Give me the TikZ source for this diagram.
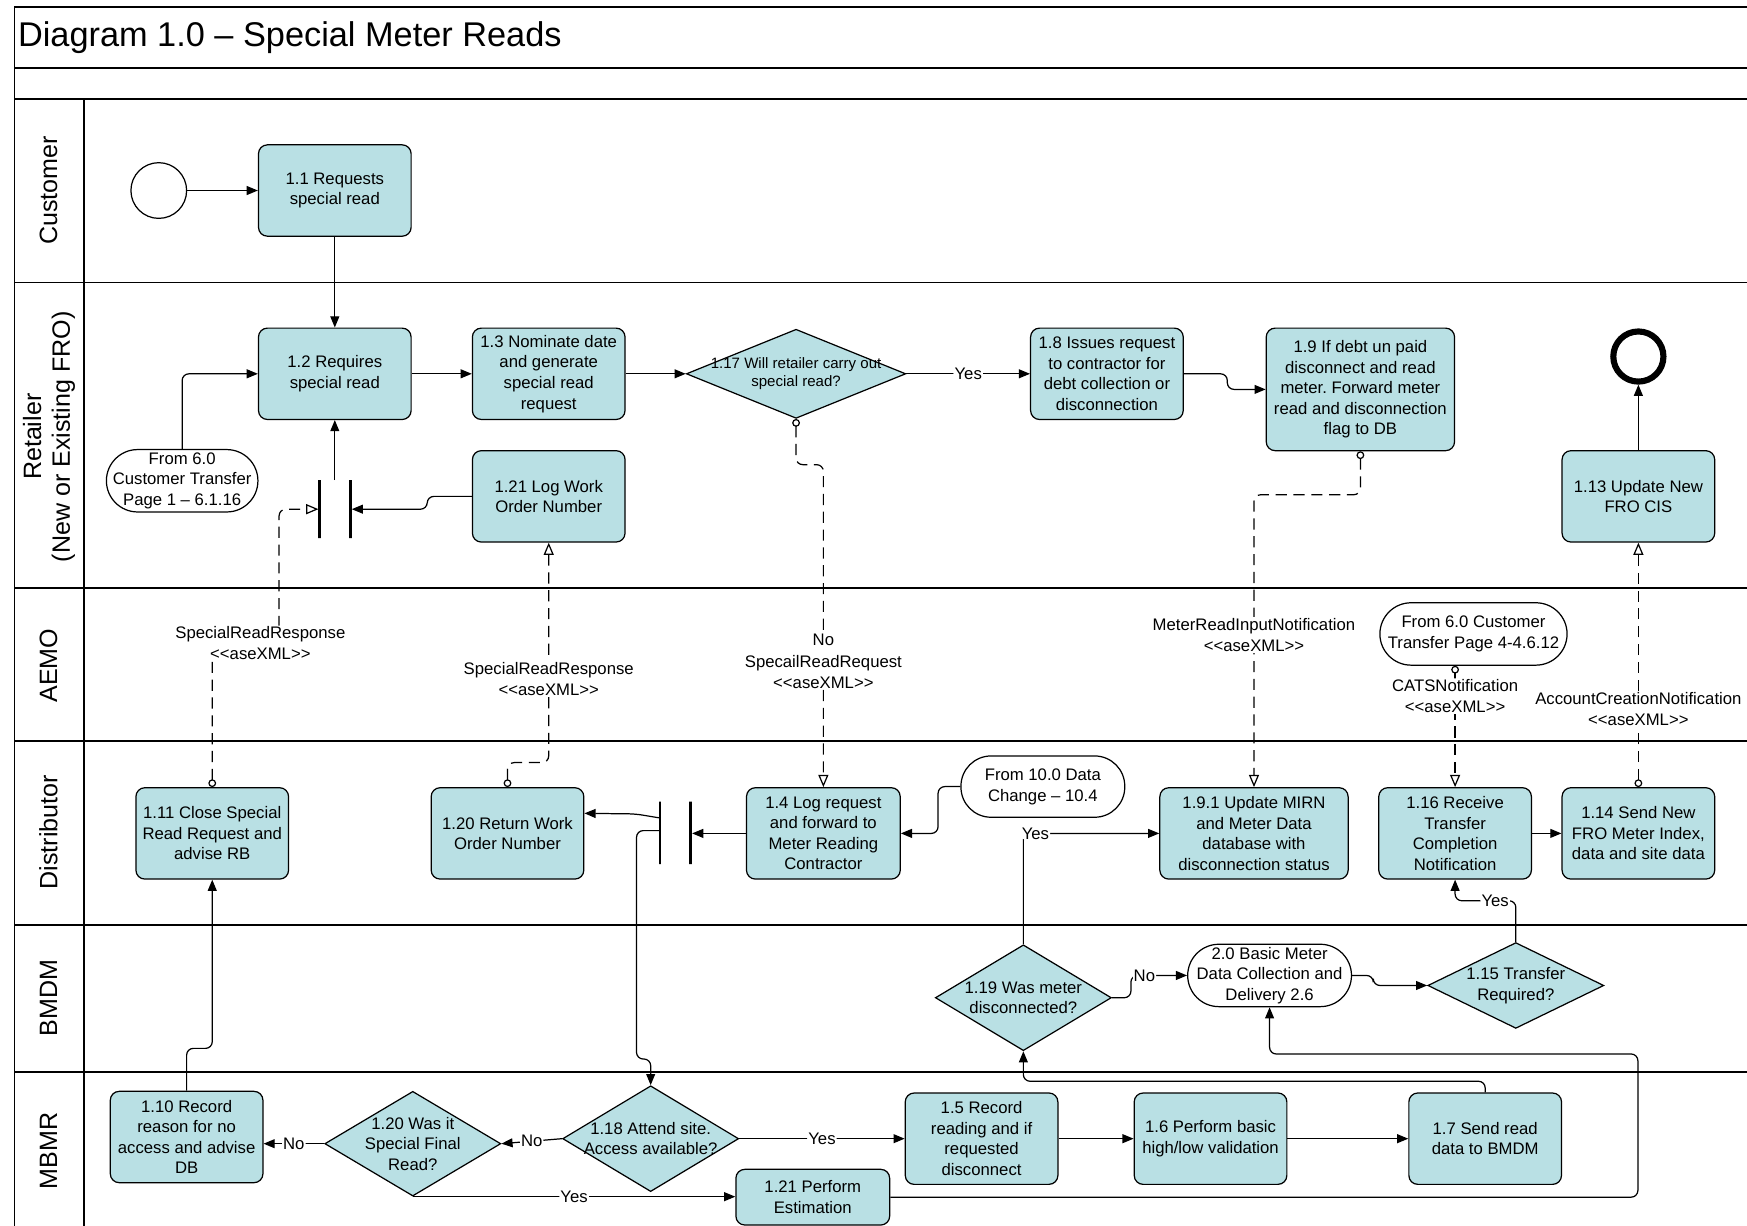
\documentclass[tikz,border=0pt]{standalone}
\usepackage{fontspec}
\setmainfont{Liberation Sans}
\usetikzlibrary{arrows.meta,shapes.geometric}
\definecolor{taskfill}{RGB}{185,224,228}
\newcommand{\tskfont}{\fontsize{15}{18.5}\selectfont}
\newcommand{\msgfont}{\fontsize{15}{19}\selectfont}
\newcommand{\gatefont}{\fontsize{13.5}{16.5}\selectfont}
\newcommand{\lanefont}{\fontsize{22.5}{26}\selectfont}
\newcommand{\ttlfont}{\fontsize{30.8}{36}\selectfont}
\newcommand{\axml}{<\kern0pt<aseXML>\kern0pt>}
\frenchspacing
\begin{document}
\begin{tikzpicture}[x=1pt, y=-1pt,
        frame/.style={line width=1.5pt},
        task/.style={draw, line width=1.1pt, fill=taskfill, rounded corners=8pt,
                     minimum width=137pt, minimum height=82pt,
                     align=center, inner sep=1pt, font=\tskfont},
        gate/.style={diamond, draw, line width=1.1pt, fill=taskfill, inner sep=0pt},
        gtext/.style={align=center, font=\tskfont},
        term/.style={draw, line width=1.1pt, fill=white, align=center, inner sep=1pt, font=\tskfont},
        joinbar/.style={draw, line width=2.4pt, minimum width=0pt, inner sep=0pt},
        flow/.style={line width=1.1pt, rounded corners=6pt, -{Triangle[length=10pt,width=8pt]}},
        msgflow/.style={line width=1.1pt, rounded corners=6pt, dash pattern=on 10pt off 6pt,
                        {Circle[open,length=7pt,width=7pt]}-{Triangle[open,length=11pt,width=9pt,fill=white]}},
        lbl/.style={fill=white, inner sep=1pt, align=center, font=\msgfont}]
            \useasboundingbox (0,0) rectangle (1568,1100);

            \draw[frame] (13,1100) -- (13,6) -- (1568,6);
            \foreach \y in {61, 89, 253.5, 528, 665, 830, 962}
                {
                    \draw[frame] (13,\y) -- (1568,\y);
                }
            \draw[frame] (75.5,89) -- (75.5,1100);

            \node[anchor=west, inner sep=0pt, font=\ttlfont] (title) at (16,34) {Diagram 1.0 – Special Meter Reads};

            \foreach \y/\lane in {171/Customer, 597.5/AEMO, 747/Distributor, 896/BMDM, 1033/MBMR}
                {
                    \node[rotate=90, font=\lanefont] (lane-\lane) at (43.5,\y) {\lane};
                }
            \node[rotate=90, font=\lanefont, align=center] (lane-Retailer) at (44,392) {Retailer\\(New or Existing FRO)};

            \node[circle, draw, line width=1.1pt, minimum size=50pt, inner sep=0pt] (start) at (142.5,171) {};
            \node[task] (b11) at (300.5,171) {1.1 Requests\\special read};

            \node[task] (b12) at (300.5,335.5) {1.2 Requires\\special read};
            \node[task] (b13) at (492.5,335.5) {1.3 Nominate date\\and generate\\special read\\request};
            \node[gate, minimum width=197pt, minimum height=80pt,
                  label={[gtext, font=\gatefont]center:1.17 Will retailer carry out\\special read?}] (d117) at (714.5,335.5) {};
            \node[task] (b18) at (993.5,335.5) {1.8 Issues request\\to contractor for\\debt collection or\\disconnection};
            \node[task, minimum width=169pt, minimum height=110pt] (b19) at (1221,349.5) {1.9 If debt un paid\\disconnect and read\\meter. Forward meter\\read and disconnection\\flag to DB};
            \node[circle, draw, line width=5.5pt, minimum size=45pt, inner sep=0pt] (endc) at (1470.5,320) {};
            \node[task] (b113) at (1470.5,445.5) {1.13 Update New\\FRO CIS};
            \node[task] (b121) at (492.5,445.5) {1.21 Log Work\\Order Number};
            \node[term, rounded corners=28pt, minimum width=136pt, minimum height=56pt] (from60) at (163.5,431.5) {From 6.0\\Customer Transfer\\Page 1 – 6.1.16};
            \node[joinbar, minimum height=52pt] (barAl) at (287,457) {};
            \node[joinbar, minimum height=52pt] (barAr) at (314.5,457) {};
            \coordinate (barAtop) at (300.5,431);

            \node[term, rounded corners=28pt, minimum width=168pt, minimum height=56pt] (from6b) at (1322.5,569) {From 6.0 Customer\\Transfer Page 4-4.6.12};

            \node[task] (b111) at (190.5,748) {1.11 Close Special\\Read Request and\\advise RB};
            \node[task] (b120) at (455.5,748) {1.20 Return Work\\Order Number};
            \node[joinbar, minimum height=56pt] (barBl) at (592.5,747.5) {};
            \node[joinbar, minimum height=56pt] (barBr) at (620,747.5) {};
            \node[task, minimum width=138pt] (b14) at (739,748) {1.4 Log request\\and forward to\\Meter Reading\\Contractor};
            \node[term, rounded corners=27pt, minimum width=147pt, minimum height=55pt] (from10) at (936,706) {From 10.0 Data\\Change – 10.4};
            \node[task, minimum width=169pt] (b191) at (1125.5,748) {1.9.1 Update MIRN\\and Meter Data\\database with\\disconnection status};
            \node[task] (b116) at (1306,748) {1.16 Receive\\Transfer\\Completion\\Notification};
            \node[task] (b114) at (1470.5,748) {1.14 Send New\\FRO Meter Index,\\data and site data};

            \node[gate, minimum width=158pt, minimum height=95pt,
                  label={[gtext]center:1.19 Was meter\\disconnected?}] (d119) at (918.5,895.5) {};
            \node[term, rounded corners=28pt, minimum width=147pt, minimum height=56pt] (from20) at (1139.5,875.5) {2.0 Basic Meter\\Data Collection and\\Delivery 2.6};
            \node[gate, minimum width=158pt, minimum height=77pt,
                  label={[gtext]center:1.15 Transfer\\Required?}] (d115) at (1360.5,884.5) {};

            \node[task] (b110) at (167.5,1020.5) {1.10 Record\\reason for no\\access and advise\\DB};
            \node[gate, minimum width=158pt, minimum height=94pt,
                  label={[gtext]center:1.20 Was it\\Special Final\\Read?}] (d120) at (370.5,1026.5) {};
            \node[gate, minimum width=158pt, minimum height=95pt,
                  label={[gtext]center:1.18 Attend site.\\Access available?}] (d118) at (584,1022) {};
            \node[task] (b15) at (881,1022) {1.5 Record\\reading and if\\requested\\disconnect};
            \node[task] (b16) at (1086.5,1022) {1.6 Perform basic\\high/low validation};
            \node[task] (b17) at (1333,1022) {1.7 Send read\\data to BMDM};
            \node[task, minimum width=138pt, minimum height=50pt] (b121p) at (729.5,1074.5) {1.21 Perform\\Estimation};

            \draw[flow] (start) -- (b11);
            \draw[flow] (b11) -- (b12);
            \draw[flow] (from60.north) |- (b12.west);
            \draw[flow] (barAtop) -- (b12.south);
            \draw[flow] (b12) -- (b13);
            \draw[flow] (b13) -- (d117);
            \draw[flow] (d117) -- node[lbl]{Yes} (b18);
            \draw[flow] (b18.east) -- ++(39,0) |- (b19.west);
            \draw[flow] (b113) -- (endc);
            \draw[flow] (b121.west) -- ++(-40,0) |- (barAr);

            \draw[msgflow] (b111.north) -- ++(0,-129) -- node[lbl, pos=.72]{SpecialReadResponse\\\axml} ++(60,0) |- (barAl);
            \draw[msgflow] (b120.north) -- ++(0,-22) -| node[lbl, pos=.69]{SpecialReadResponse\\\axml} (b121.south);
            \draw[msgflow] (d117.south) -- ++(0,41) -| node[lbl, pos=.805]{No\\SpecailReadRequest\\\axml} (b14.north);
            \draw[msgflow] (b19.south) -- ++(0,39) -| node[lbl, pos=.74]{MeterReadInputNotification\\\axml} (b191.north);
            \draw[msgflow] (from6b.south -| b116.north) -- node[lbl, pos=.25]{CATSNotification\\\axml} (b116.north);
            \draw[msgflow] (b114.north) -- node[lbl, pos=.32]{AccountCreationNotification\\\axml} (b113.south);

            \draw[flow] (b14.west) -- (b14.west -| barBr.east);
            \draw[flow] ([yshift=13.5pt]barBl.west) -- ++(-21,-3.5) -- ([yshift=18pt]b120.east);
            \draw[flow] ([yshift=2pt]barBl.west) -- ++(-20,0) -- ++(0,205) -| (d118.north);
            \draw[flow] (from10.west) -- ++(-20,0) |- (b14.east);
            \draw[flow] (d119.north) |- node[pos=.5, anchor=west, xshift=-3pt, lbl]{Yes} (b191.west);
            \draw[flow] (b116) -- (b114);
            \draw[flow] (d115.north) -- ++(0,-37) -| node[pos=.17, lbl]{Yes} (b116.south);

            \draw[flow] (d119.east) -- ++(17,0) |- node[pos=.62, lbl]{No} (from20.west);
            \draw[flow] (from20.east) -- ++(19,0) |- (d115.west);
            \draw[flow] (b17.north) -- ++(0,-10) -| (d119.south);
            \draw[flow] (b121p.east) -- ++(671,0) -- ++(0,-128.5) -| (from20.south);

            \draw[flow] (d118.east) -- node[lbl]{Yes} (d118.east -| b15.west);
            \draw[flow] (d118.west) -- node[lbl]{No} (d120.east);
            \draw[flow] (d120.west) -- node[lbl]{No} (d120.west -| b110.east);
            \draw[flow] (d120.south) -- node[lbl]{Yes} (d120.south -| b121p.west);
            \draw[flow] (b15) -- (b16);
            \draw[flow] (b16) -- (b17);
            \draw[flow] (b110.north) -- ++(0,-38) -| (b111.south);
        \end{tikzpicture}
\end{document}
